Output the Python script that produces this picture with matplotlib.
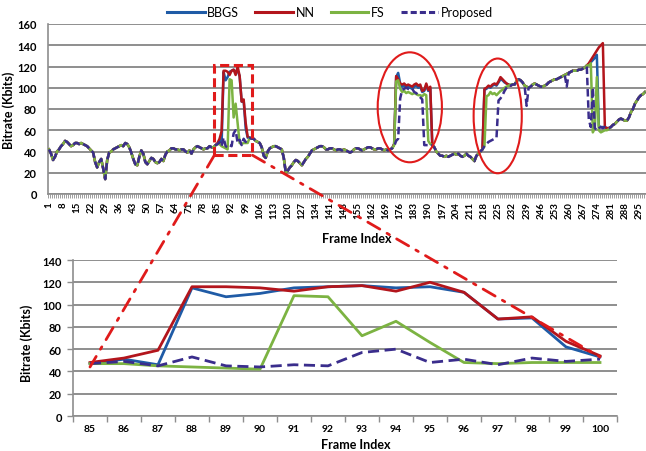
import matplotlib
matplotlib.use("Agg")
import matplotlib.pyplot as plt
from matplotlib.patches import Rectangle, Ellipse, ConnectionPatch
from matplotlib.lines import Line2D

plt.rcParams['font.family'] = ['Lato', 'DejaVu Sans']

# ---------------- data ----------------
frames = list(range(1, 299))

base = [
    42, 38, 32, 35, 40, 42, 45, 47, 50, 49,
    47, 45, 46, 48, 48, 47, 48, 47, 46, 45,
    43, 41, 39, 30, 25, 30, 33, 24, 14, 32,
    39, 40, 42, 43, 44, 45, 46, 45, 48, 47,
    44, 39, 33, 28, 27, 35, 41, 38, 30, 28,
    31, 34, 33, 30, 29, 30, 33, 31, 37, 40,
    41, 43, 43, 42, 42, 41, 42, 42, 40, 39,
    41, 38, 42, 44, 45, 44, 43, 42, 43, 43,
    45, 44, 44, 46, 47, 49, 45, 44, 43, 42,
    45, 45, 57, 59, 48, 50, 46, 50, 49, 50,
    53, 52, 52, 50, 49, 48, 44, 36, 34, 40,
    43, 44, 45, 45, 44, 43, 42, 34, 20, 22,
    25, 27, 30, 32, 31, 29, 27, 30, 33, 35,
    38, 41, 42, 43, 44, 45, 45, 44, 42, 42,
    43, 43, 42, 41, 42, 42, 41, 42, 41, 40,
    39, 40, 42, 43, 43, 42, 41, 42, 43, 44,
    44, 43, 42, 42, 43, 43, 42, 41, 42, 41,
    42, 43, 47, 50, 52, 53, 55, 55, 54, 54,
    53, 53, 52, 52, 51, 50, 49, 47, 46, 46,
    46, 46, 44, 40, 38, 36, 36, 35, 36, 35,
    36, 37, 38, 37, 38, 36, 35, 36, 38, 36,
    35, 33, 31, 36, 38, 40, 42, 45, 47, 49,
    50, 51, 52, 53, 88, 90, 93, 97, 100, 102,
    102, 103, 103, 106, 108, 107, 105, 102, 101, 100,
    101, 103, 104, 103, 102, 101, 101, 102, 103, 105,
    106, 107, 108, 108, 109, 110, 111, 112, 113, 114,
    115, 116, 116, 116, 117, 117, 118, 119, 121, 122,
    123, 124, 125, 126, 127, 64, 63, 63, 62, 62,
    63, 65, 66, 68, 70, 71, 70, 69, 69, 72,
    77, 80, 85, 88, 91, 93, 94, 96,
]

# zoomed frames (lower chart)
zoom_frames = list(range(85, 101))
bbgs_zoom = [47, 51, 46, 115, 107, 110, 115, 116, 117, 115, 116, 111, 87, 88, 62, 53]
nn_zoom = [48, 52, 59, 116, 116, 115, 112, 116, 117, 112, 120, 111, 87, 89, 67, 54]
fs_zoom = [47, 47, 45, 44, 43, 42, 108, 107, 72, 85, 66, 48, 47, 48, 48, 48]
prop_zoom = [47, 49, 45, 53, 45, 44, 46, 45, 57, 60, 48, 51, 46, 52, 49, 51]

bbgs_over = {
    173: 47, 174: 110, 175: 114, 176: 104, 177: 101, 178: 102, 179: 100, 180: 101,
    181: 100, 182: 99, 183: 101, 184: 102, 185: 100, 186: 101, 187: 96, 188: 97,
    189: 102, 190: 97, 191: 99, 192: 46,
    218: 98, 219: 99, 220: 101, 221: 100, 222: 102, 223: 103, 224: 102, 225: 105,
    226: 108, 227: 107, 228: 105, 229: 104, 230: 103, 231: 102, 232: 103,
    270: 122, 271: 124, 272: 126, 273: 128, 274: 131, 275: 64, 276: 63, 277: 63,
}
nn_over = {
    173: 47, 174: 111, 175: 108, 176: 104, 177: 103, 178: 104, 179: 102, 180: 103,
    181: 102, 182: 101, 183: 103, 184: 104, 185: 102, 186: 103, 187: 97, 188: 98,
    189: 104, 190: 98, 191: 101, 192: 46,
    218: 99, 219: 100, 220: 102, 221: 101, 222: 103, 223: 104, 224: 103, 225: 106,
    226: 110, 227: 108, 228: 106, 229: 104, 230: 103, 231: 102, 232: 103,
    270: 123, 271: 126, 272: 129, 273: 132, 274: 135, 275: 138, 276: 140, 277: 142,
}
fs_over = {
    173: 46, 174: 106, 175: 107, 176: 99, 177: 96, 178: 97, 179: 95, 180: 96,
    181: 95, 182: 94, 183: 95, 184: 94, 185: 93, 186: 93, 187: 92, 188: 94,
    189: 93, 190: 50, 191: 47, 192: 46,
    218: 45, 219: 92, 220: 93, 221: 96, 222: 94, 223: 95, 224: 93, 225: 95,
    226: 97, 227: 98, 228: 100, 229: 101, 230: 102, 231: 103, 232: 103,
    270: 121, 271: 123, 272: 58, 273: 62, 274: 110, 275: 60, 276: 58, 277: 59,
    278: 60, 279: 60, 280: 61,
}
prop_over = {
    173: 45, 174: 50, 175: 52, 176: 90, 177: 98, 178: 99, 179: 100, 180: 99,
    181: 98, 182: 99, 183: 96, 184: 95, 185: 93, 186: 91, 187: 89, 188: 46,
    189: 46, 190: 46, 191: 45, 192: 46,
    239: 83, 259: 101,
    269: 120, 270: 70, 271: 63, 272: 100, 273: 62, 274: 60, 275: 62, 276: 63, 277: 62,
}

def build(over, zoom_vals):
    vals = list(base)
    for f, v in zip(zoom_frames, zoom_vals):
        vals[f - 1] = v
    for f, v in over.items():
        vals[f - 1] = v
    return vals

bbgs = build(bbgs_over, bbgs_zoom)
nn = build(nn_over, nn_zoom)
fs = build(fs_over, fs_zoom)
prop = build(prop_over, prop_zoom)

series_names = ["BBGS", "NN", "FS", "Proposed"]
colors = ["#1f5ba6", "#b3151c", "#7cb342", "#3a2d8c"]
styles = ["-", "-", "-", "--"]

# ---------------- figure ----------------
W, H = 646, 452
fig = plt.figure(figsize=(W / 100, H / 100), dpi=100)
ax1 = fig.add_axes([48 / W, 1 - 195 / H, (646 - 48) / W, 170 / H])
ax2 = fig.add_axes([73 / W, 1 - 417 / H, (617 - 73) / W, 156 / H])

grid_c = "#8e8e8e"
top_data = [bbgs, nn, fs, prop]
zoom_data = [bbgs_zoom, nn_zoom, fs_zoom, prop_zoom]

for vals, c, ls, nm in zip(top_data, colors, styles, series_names):
    kw = dict(dashes=(3, 1.5)) if ls == "--" else {}
    ax1.plot(frames, vals, color=c, lw=1.8, label=nm, zorder=3, **kw)

for vals, c, ls in zip(zoom_data, colors, styles):
    kw = dict(dashes=(4, 2)) if ls == "--" else {}
    ax2.plot(zoom_frames, vals, color=c, lw=2.0, zorder=3, **kw)

# top axes styling
ax1.set_xlim(0.5, 298.5)
ax1.set_ylim(0, 160)
ax1.set_yticks(range(0, 161, 20))
top_ticks = list(range(1, 299, 7))
ax1.set_xticks(top_ticks)
ax1.set_xticklabels([str(t) for t in top_ticks], rotation=90, fontsize=7, fontweight="bold")
ax1.set_xticks([f + 0.5 for f in range(0, 299)], minor=True)
ax1.tick_params(axis="x", which="major", length=0, pad=5)
ax1.tick_params(axis="x", which="minor", length=3, color=grid_c, width=0.6)
ax1.tick_params(axis="y", length=0, pad=8, labelsize=8)
for lab in ax1.get_yticklabels():
    lab.set_fontweight("bold")

# bottom axes styling
ax2.set_xlim(84.5, 100.5)
ax2.set_ylim(0, 140)
ax2.set_yticks(range(0, 141, 20))
ax2.set_xticks(zoom_frames)
ax2.set_xticklabels([str(t) for t in zoom_frames], fontsize=7.5, fontweight="bold")
ax2.set_xticks([f - 0.5 for f in zoom_frames] + [100.5], minor=True)
ax2.tick_params(axis="x", which="major", length=0, pad=6)
ax2.tick_params(axis="x", which="minor", length=4, color=grid_c, width=1)
ax2.tick_params(axis="y", length=4, color=grid_c, width=1, pad=4, labelsize=8)
for lab in ax2.get_yticklabels():
    lab.set_fontweight("bold")

for ax in (ax1, ax2):
    ax.grid(axis="y", color=grid_c, lw=1.4)
    ax.set_axisbelow(True)
    for s in ("top", "right"):
        ax.spines[s].set_visible(False)
    for s in ("left", "bottom"):
        ax.spines[s].set_color(grid_c)
        ax.spines[s].set_linewidth(1.2)
    ax.set_ylabel("Bitrate (Kbits)", fontsize=9, fontweight="bold")

ax1.set_xlabel("Frame Index", fontsize=9, fontweight="bold")
ax1.xaxis.set_label_coords((357 - 48) / 598, (195 - 233) / 170)
ax1.yaxis.set_label_coords((15 - 48) / 598, 0.5)
ax2.yaxis.set_label_coords((33 - 73) / 544, 0.47)
# lower x label sits at the very bottom edge of the figure
fig.text(356 / W, 1 / H, "Frame Index", ha="center", va="bottom",
         fontsize=9, fontweight="bold")

# legend
handles = [Line2D([], [], color=c, lw=2.2, dashes=(2, 1)) if ls == "--"
           else Line2D([], [], color=c, lw=2.2)
           for c, ls in zip(colors, styles)]
fig.legend(handles, series_names, loc="center", bbox_to_anchor=(330 / W, 1 - 13 / H),
           ncol=4, frameon=False, fontsize=9, handlelength=3.0, columnspacing=1.3,
           handletextpad=0.2)

# annotations
red = "#e01b1b"
rect_x0, rect_x1, rect_y0, rect_y1 = 83.4, 102.4, 36.5, 121.5
ax1.add_patch(Rectangle((rect_x0, rect_y0), rect_x1 - rect_x0, rect_y1 - rect_y0,
                        fill=False, ec=red, lw=2.2, ls=(0, (3, 1.5)), zorder=5, clip_on=False))
ax1.add_patch(Ellipse((180.8, 81.6), 32, 103.5, fill=False, ec=red, lw=1.5, zorder=5))
ax1.add_patch(Ellipse((224.6, 73.5), 24, 108, fill=False, ec=red, lw=1.5, zorder=5))

for (xa, ya), (xb, yb) in [((rect_x0, rect_y0), (85, 44)), ((rect_x1, rect_y0), (100, 53))]:
    cp = ConnectionPatch(xyA=(xa, ya), coordsA=ax1.transData, xyB=(xb, yb), coordsB=ax2.transData,
                         color=red, lw=2.0, ls=(0, (5, 3, 1, 3)), zorder=6)
    fig.add_artist(cp)

fig.savefig("out.png", dpi=100)
